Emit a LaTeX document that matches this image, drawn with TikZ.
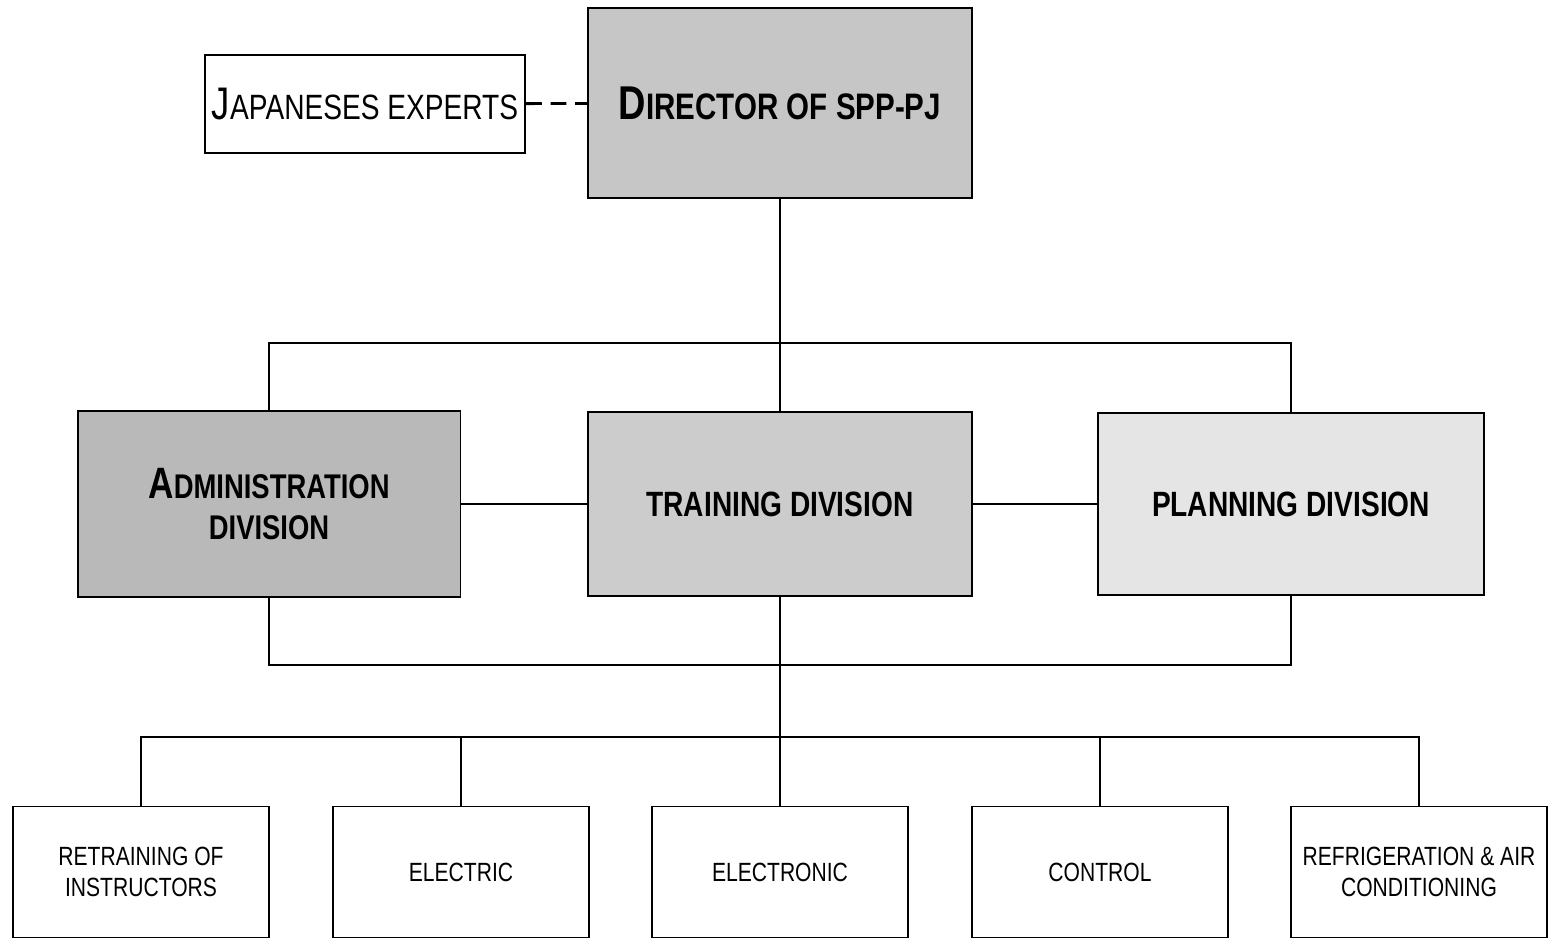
\documentclass[tikz,border=0pt]{standalone}
\usepackage{fontspec}
\setmainfont{Liberation Sans}[FakeStretch=0.8]
\usepackage{tikz}
\tikzstyle{head}=[rectangle,draw=black,line width=1.1pt,inner sep=0pt,align=center,font=\bfseries]
\tikzstyle{unit}=[rectangle,draw=black,line width=0.8pt,inner sep=0pt,align=center,minimum width=5.12cm,minimum height=2.62cm,font=\fontsize{15}{18}\selectfont]
\tikzstyle{orgline}=[line width=1.6pt]

\begin{document}
\begin{tikzpicture}[x=0.02cm,y=-0.02cm,orgline]
\useasboundingbox (0,0) rectangle (1549,940);
\node[head,font=\mdseries,minimum width=6.4cm,minimum height=1.96cm] (JE) at (365,104) {{\fontsize{26}{28}\selectfont J}{\fontsize{20}{24}\selectfont APANESES EXPERTS}};
\node[head,fill=gray!45,minimum width=7.68cm,minimum height=3.8cm] (DIR) at (780,103) {{\fontsize{27}{30}\selectfont D}{\fontsize{21}{24}\selectfont IRECTOR OF SPP-PJ}};
\node[head,fill=gray!55,minimum width=7.66cm,minimum height=3.72cm] (ADM) at (269,504) {{\fontsize{25}{28}\selectfont A}{\fontsize{19.5}{24}\selectfont DMINISTRATION}\\[9pt]{\fontsize{19.5}{24}\selectfont DIVISION}};
\node[head,fill=gray!40,minimum width=7.68cm,minimum height=3.68cm] (TRN) at (780,504) {\fontsize{20}{24}\selectfont TRAINING DIVISION};
\node[head,fill=gray!20,minimum width=7.72cm,minimum height=3.64cm] (PLN) at (1291,504) {\fontsize{20}{24}\selectfont PLANNING DIVISION};
\node[unit] (RET) at (141,872) {RETRAINING OF\\INSTRUCTORS};
\node[unit] (ELC) at (461,872) {ELECTRIC};
\node[unit] (ELN) at (780,872) {ELECTRONIC};
\node[unit] (CTL) at (1100,872) {CONTROL};
\node[unit] (REF) at (1419,872) {REFRIGERATION \& AIR\\CONDITIONING};
\coordinate (TJ) at (780,343);
\coordinate (BJ) at (780,665);
\coordinate (UJ) at (780,737);
\draw[dashed,dash pattern=on 9pt off 5pt](JE)--(DIR);
\draw(DIR.south)--(TJ);
\draw(ADM.north)|-(TJ)-|(PLN.north);
\draw(TJ)--(TRN.north);
\draw(ADM)--(TRN);
\draw(TRN)--(PLN);
\draw(ADM.south)|-(BJ)-|(PLN.south);
\draw(TRN.south)--(ELN.north);
\draw(RET.north)|-(UJ)-|(REF.north);
\draw(ELC.north)|-(UJ);
\draw(CTL.north)|-(UJ);
\end{tikzpicture}
\end{document}
